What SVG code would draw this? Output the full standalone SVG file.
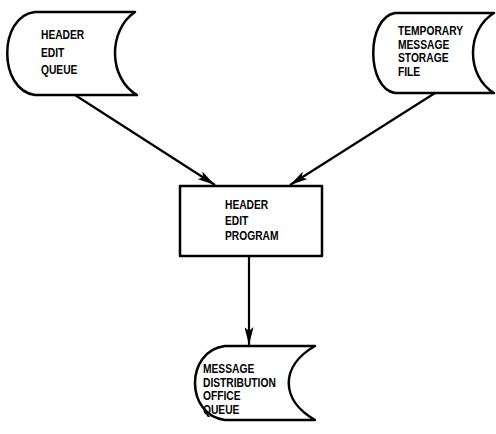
<svg xmlns="http://www.w3.org/2000/svg" width="496" height="434" viewBox="0 0 496 434">
<style>
.shape{fill:#fff;stroke:#000;stroke-width:2.5;stroke-linejoin:round}
.t{font-family:"Liberation Sans",Arial,sans-serif;font-weight:bold;font-size:12.5px;fill:#000}
.conn{stroke:#000;stroke-width:2.2;fill:none}
</style>
<defs>
<marker id="ah" viewBox="0 0 18 9" refX="18" refY="4.5" markerWidth="18" markerHeight="9" markerUnits="userSpaceOnUse" orient="auto">
<path d="M0,0 L18,4.5 L0,9 L4,4.5 Z" fill="#000"/>
</marker>
</defs>
<rect width="496" height="434" fill="#fff"/>
<g id="header-edit-queue">
<path class="shape" d="M35,12 L135,12 C108,30 108,78 137,95 L35,95 C-2,90 -2,16 35,12 Z"/>
<g transform="translate(41,0) scale(0.82,1)">
<text class="t" x="0" y="39.5">HEADER</text>
<text class="t" x="0" y="57">EDIT</text>
<text class="t" x="0" y="74.5">QUEUE</text>
</g>
</g>
<g id="temporary-message-storage-file">
<path class="shape" d="M395,13 L494,13 C466,30 466,76 494,93 L395,93 C366,88 366,18 395,13 Z"/>
<g transform="translate(398,0) scale(0.82,1)">
<text class="t" x="0" y="35.5">TEMPORARY</text>
<text class="t" x="0" y="49">MESSAGE</text>
<text class="t" x="0" y="62.5">STORAGE</text>
<text class="t" x="0" y="76.5">FILE</text>
</g>
</g>
<g id="header-edit-program">
<rect class="shape" x="180" y="186" width="142" height="70"/>
<g transform="translate(225,0) scale(0.82,1)">
<text class="t" x="0" y="209.5">HEADER</text>
<text class="t" x="0" y="225">EDIT</text>
<text class="t" x="0" y="240.5">PROGRAM</text>
</g>
</g>
<g id="message-distribution-office-queue">
<path class="shape" d="M225,346 L315,346 C280,366 280,400 315,420 L225,420 C185,415 185,351 225,346 Z"/>
<g transform="translate(203,0) scale(0.82,1)">
<text class="t" x="0" y="373.5">MESSAGE</text>
<text class="t" x="0" y="387">DISTRIBUTION</text>
<text class="t" x="0" y="400.5">OFFICE</text>
<text class="t" x="0" y="414.5">QUEUE</text>
</g>
</g>
<g id="connectors">
<line class="conn" x1="75" y1="95" x2="215" y2="185" marker-end="url(#ah)"/>
<line class="conn" x1="435" y1="93" x2="290" y2="185" marker-end="url(#ah)"/>
<line class="conn" x1="249" y1="256" x2="249" y2="345" marker-end="url(#ah)"/>
</g>
</svg>
